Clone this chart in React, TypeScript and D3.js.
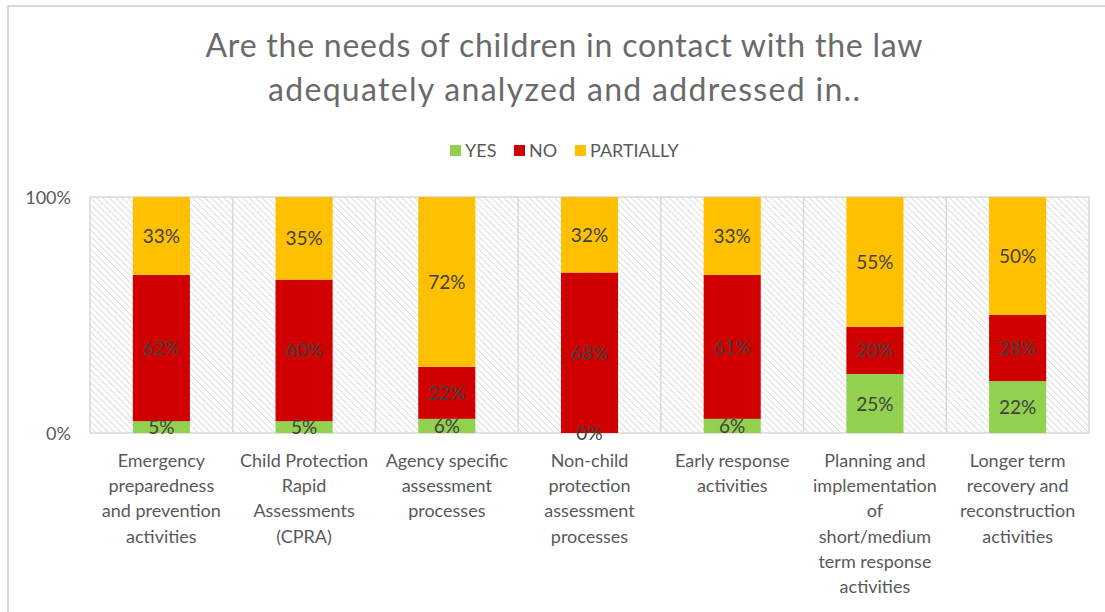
import React from "react";
import * as d3 from "d3";

const title = ["Are the needs of children in contact with the law", "adequately analyzed and addressed in.."];
const categories = [
  ["Emergency", "preparedness", "and prevention", "activities"],
  ["Child Protection", "Rapid", "Assessments", "(CPRA)"],
  ["Agency specific", "assessment", "processes"],
  ["Non-child", "protection", "assessment", "processes"],
  ["Early response", "activities"],
  ["Planning and", "implementation", "of", "short/medium", "term response", "activities"],
  ["Longer term", "recovery and", "reconstruction", "activities"],
];
const seriesNames = ["YES", "NO", "PARTIALLY"];
const seriesColors = ["#92D050", "#D00000", "#FFC000"];
const yesValues = [5, 5, 6, 0, 6, 25, 22];
const noValues = [62, 60, 22, 68, 61, 20, 28];
const partiallyValues = [33, 35, 72, 32, 33, 55, 50];
const yTicks = [0, 100];

const W = 1105, H = 612;
const plot = { left: 90, right: 1089, top: 197, bottom: 433 };
const FONT = "Lato, 'Open Sans', sans-serif";

export default function App() {
  const keys = ["yes", "no", "partially"];
  const rows = categories.map((c, i) => ({
    idx: i,
    yes: yesValues[i],
    no: noValues[i],
    partially: partiallyValues[i],
  }));
  const stacked = d3.stack<any>().keys(keys)(rows);
  const x = d3.scaleBand<number>().domain(categories.map((_, i) => i)).range([plot.left, plot.right]).padding(0);
  const y = d3.scaleLinear().domain([0, 100]).range([plot.bottom, plot.top]);
  const bw = x.bandwidth() * 0.4;

  return (
    <svg width={W} height={H} style={{ position: "absolute", left: 0, top: 0, background: "#fff" }}>
      <defs>
        <pattern id="hatch" patternUnits="userSpaceOnUse" width="4.5" height="4.5" patternTransform="rotate(-45)">
          <rect width="4.5" height="4.5" fill="#fff" />
          <line x1="0" y1="0" x2="0" y2="4.5" stroke="#dadada" strokeWidth="1.8" />
        </pattern>
      </defs>
      <rect x={8} y={6} width={1200} height={700} fill="#fff" stroke="#d9d9d9" strokeWidth={2} />
      {title.map((t, i) => (
        <text key={i} x={564} y={57 + i * 44} textAnchor="middle" fontFamily={FONT} fontWeight={400}
          fontSize={32} fill="#6a6a6a" textLength={i === 0 ? 717 : 592} lengthAdjust="spacing">{t}</text>
      ))}
      {/* legend */}
      {seriesNames.map((s, i) => {
        const lx = [450, 514, 575][i];
        return (
          <g key={s}>
            <rect x={lx} y={145} width={11} height={11} fill={seriesColors[i]} />
            <text x={lx + 15} y={157} fontFamily={FONT} fontSize={18} fill="#595959">{s}</text>
          </g>
        );
      })}
      {/* plot background */}
      <rect x={plot.left} y={plot.top} width={plot.right - plot.left} height={plot.bottom - plot.top} fill="url(#hatch)" stroke="#d9d9d9" strokeWidth={1.5} />
      {categories.map((_, i) => i > 0 && (
        <line key={i} x1={x(i)!} x2={x(i)!} y1={plot.top} y2={plot.bottom} stroke="#d9d9d9" strokeWidth={1.5} />
      ))}
      {/* y ticks */}
      {yTicks.map(t => (
        <text key={t} x={71} y={y(t) + 7} textAnchor="end" fontFamily={FONT} fontSize={18} fill="#595959">{t}%</text>
      ))}
      {/* bars */}
      {stacked.map((s, si) => (
        <g key={s.key}>
          {s.map((d, i) => {
            const cx = x(i)! + x.bandwidth() / 2;
            return (
              <rect key={i} x={cx - bw / 2} y={y(d[1])} width={bw} height={y(d[0]) - y(d[1])} fill={seriesColors[si]} />
            );
          })}
        </g>
      ))}
      {/* data labels */}
      {stacked.map((s, si) => (
        <g key={s.key + "l"}>
          {s.map((d, i) => {
            const cx = x(i)! + x.bandwidth() / 2;
            const cy = (y(d[0]) + y(d[1])) / 2;
            return (
              <text key={i} x={cx} y={cy + 7} textAnchor="middle" fontFamily={FONT} fontSize={19} fill="#404040">
                {d[1] - d[0]}%
              </text>
            );
          })}
        </g>
      ))}
      {/* category labels */}
      {categories.map((lines, i) => (
        <text key={i} textAnchor="middle" fontFamily={FONT} fontSize={18} fill="#595959">
          {lines.map((l, j) => (
            <tspan key={j} x={x(i)! + x.bandwidth() / 2} y={467 + j * 25.2}>{l}</tspan>
          ))}
        </text>
      ))}
    </svg>
  );
}
